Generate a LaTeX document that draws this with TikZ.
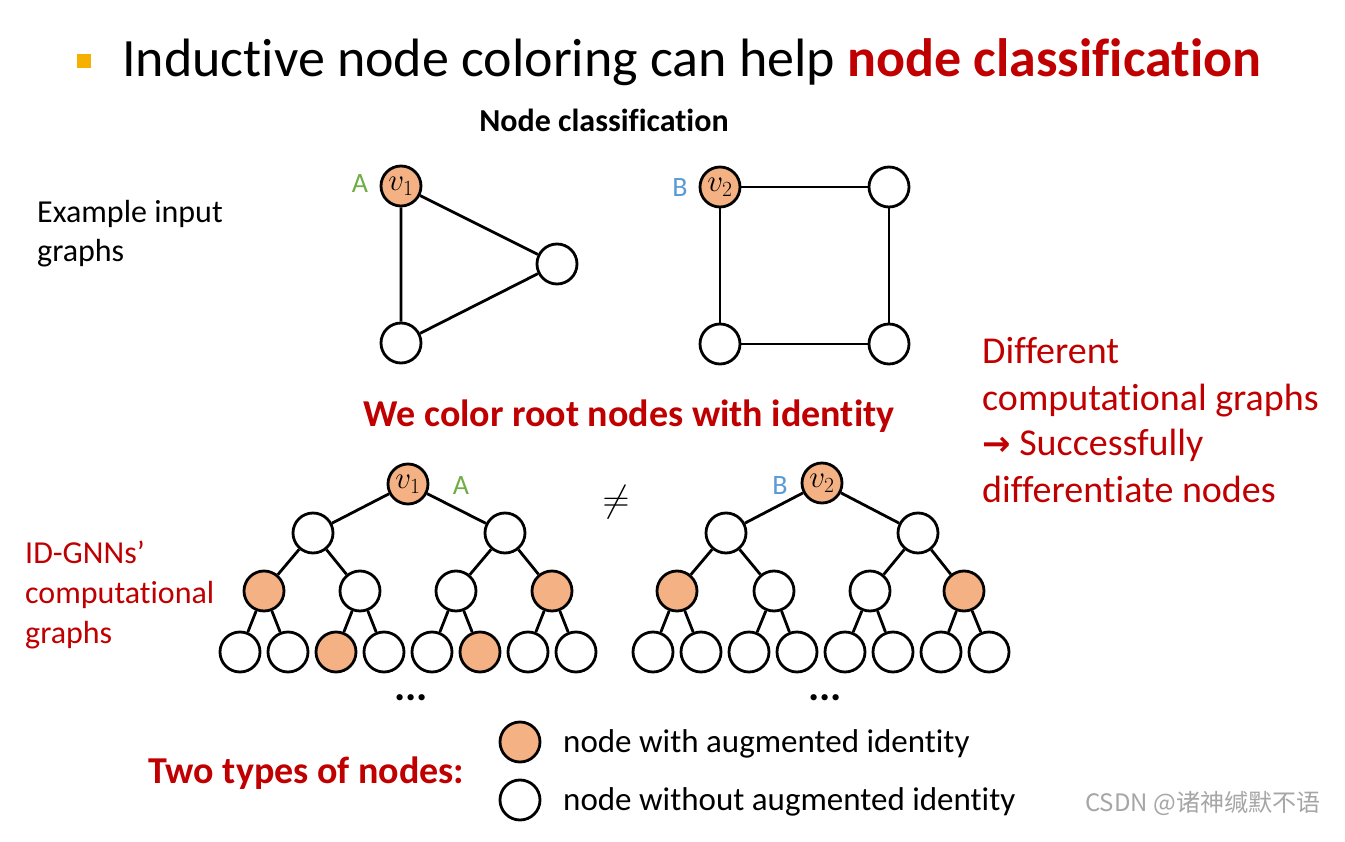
\documentclass[tikz,border=0pt]{standalone}
\usepackage{fontspec}
\setmainfont{Carlito}[Ligatures={NoCommon,NoRare}]
\newfontfamily\dejavu{DejaVu Sans}
\newfontfamily\cjk{Noto Sans CJK SC}
\definecolor{idorange}{HTML}{F4B183}
\definecolor{agreen}{HTML}{70AD47}
\definecolor{bblue}{HTML}{5B9BD5}
\definecolor{dred}{HTML}{C00000}
\definecolor{bulletc}{HTML}{F5B000}
\newcommand{\fs}[1]{\fontsize{#1}{#1}\selectfont}
\newcommand{\vlab}[1]{\scalebox{1.25}{\fs{24}$v_{#1}$}}
\begin{document}
\begin{tikzpicture}[x=1pt,y=-1pt,
  vtx/.style={circle,draw=black,line width=2.8pt,minimum size=40pt,inner sep=0pt,fill=white},
  idv/.style={vtx,fill=idorange},
  edge/.style={line width=2.8pt},
  txt/.style={inner sep=0pt,anchor=base west},
  lab/.style={inner sep=0pt,font=\fs{28}}]
\useasboundingbox[fill=white] (0,0) rectangle (1345,842);
% title
\node[fill=bulletc,minimum size=14pt,inner sep=0pt] (bul) at (84,61) {};
\node[txt,font=\fs{54}] (title) at (122,77) {Inductive node coloring can help \textbf{\color{dred}node classification}};
\node[inner sep=0pt,anchor=base,font=\bfseries\fs{32}] (nc) at (604,132) {Node classification};
% left text
\node[txt,font=\fs{32}] (ex1) at (37,223) {Example input};
\node[txt,font=\fs{32}] (ex2) at (37,262) {graphs};
% input graphs
\node[idv] (t1) at (401,186) {\vlab{1}};
\node[vtx] (t2) at (557,264) {};
\node[vtx] (t3) at (401,343) {};
\draw[edge] (t1) -- (t2) (t2) -- (t3) (t3) -- (t1);
\node[lab,text=agreen] (la) at (360,184) {A};
\node[idv] (s1) at (720,187) {\vlab{2}};
\node[vtx] (s2) at (889,187) {};
\node[vtx] (s3) at (720,344) {};
\node[vtx] (s4) at (889,344) {};
\draw[edge] (s1) -- (s2) (s2) -- (s4) (s4) -- (s3) (s3) -- (s1);
\node[lab,text=bblue] (lb) at (680,188) {B};
% right red text
\node[txt,font=\fs{38},text=dred] (d1) at (982,364) {Different};
\node[txt,font=\fs{38},text=dred] (d2) at (982,410) {computational graphs};
\node[txt,font=\fs{38},text=dred] (d3) at (982,456) {{\dejavu\bfseries\fs{34}→} Successfully};
\node[txt,font=\fs{38},text=dred] (d4) at (982,502) {differentiate nodes};
\node[inner sep=0pt,anchor=base,font=\bfseries\fs{38},text=dred] (wc) at (629,427) {We color root nodes with identity};
% ID-GNN text
\node[txt,font=\fs{32},text=dred] (g1) at (25,563) {ID-GNNs’};
\node[txt,font=\fs{32},text=dred] (g2) at (25,603) {computational};
\node[txt,font=\fs{32},text=dred] (g3) at (25,643) {graphs};
% left tree
\node[idv] (l0) at (408,484) {\vlab{1}};
\node[vtx] (l1a) at (313,533) {};
\node[vtx] (l1b) at (505,533) {};
\foreach \n/\x/\s in {a/264/idv,b/360/vtx,c/456/vtx,d/552/idv}
  \node[\s] (l2\n) at (\x,591) {};
\foreach \n/\x/\s in {a/240/vtx,b/288/vtx,c/336/idv,d/384/vtx,e/432/vtx,f/480/idv,g/528/vtx,h/576/vtx}
  \node[\s] (l3\n) at (\x,652) {};
\foreach \p/\c in {0/1a,0/1b,1a/2a,1a/2b,1b/2c,1b/2d,2a/3a,2a/3b,2b/3c,2b/3d,2c/3e,2c/3f,2d/3g,2d/3h}
  \draw[edge] (l\p) -- (l\c);
\node[lab,text=agreen] (ta) at (461,486) {A};
\node[inner sep=0pt,anchor=base,font=\bfseries\fs{42}] (dl) at (411,700) {...};
% neq
\node[inner sep=0pt] (ne) at (616,502) {\scalebox{1.5}{\fs{24}$\neq$}};
% right tree
\node[idv] (r0) at (822,483) {\vlab{2}};
\node[vtx] (r1a) at (726,533) {};
\node[vtx] (r1b) at (918,533) {};
\foreach \n/\x/\s in {a/677/idv,b/774/vtx,c/870/vtx,d/964/idv}
  \node[\s] (r2\n) at (\x,591) {};
\foreach \n/\x in {a/653,b/701,c/749,d/797,e/845,f/893,g/941,h/989}
  \node[vtx] (r3\n) at (\x,652) {};
\foreach \p/\c in {0/1a,0/1b,1a/2a,1a/2b,1b/2c,1b/2d,2a/3a,2a/3b,2b/3c,2b/3d,2c/3e,2c/3f,2d/3g,2d/3h}
  \draw[edge] (r\p) -- (r\c);
\node[lab,text=bblue] (tb) at (780,486) {B};
\node[inner sep=0pt,anchor=base,font=\bfseries\fs{42}] (dr) at (825,700) {...};
% legend
\node[inner sep=0pt,anchor=base west,font=\bfseries\fs{38},text=dred] (two) at (148,783) {Two types of nodes:};
\node[idv] (k1) at (520,742) {};
\node[vtx] (k2) at (520,800) {};
\node[txt,font=\fs{33}] (k1t) at (563,752) {node with augmented identity};
\node[txt,font=\fs{33}] (k2t) at (563,810) {node without augmented identity};
% watermark
\node[txt,font=\cjk\fs{24},text=black!35] (wm) at (1085,811) {CSDN @诸神缄默不语};
\end{tikzpicture}
\end{document}
